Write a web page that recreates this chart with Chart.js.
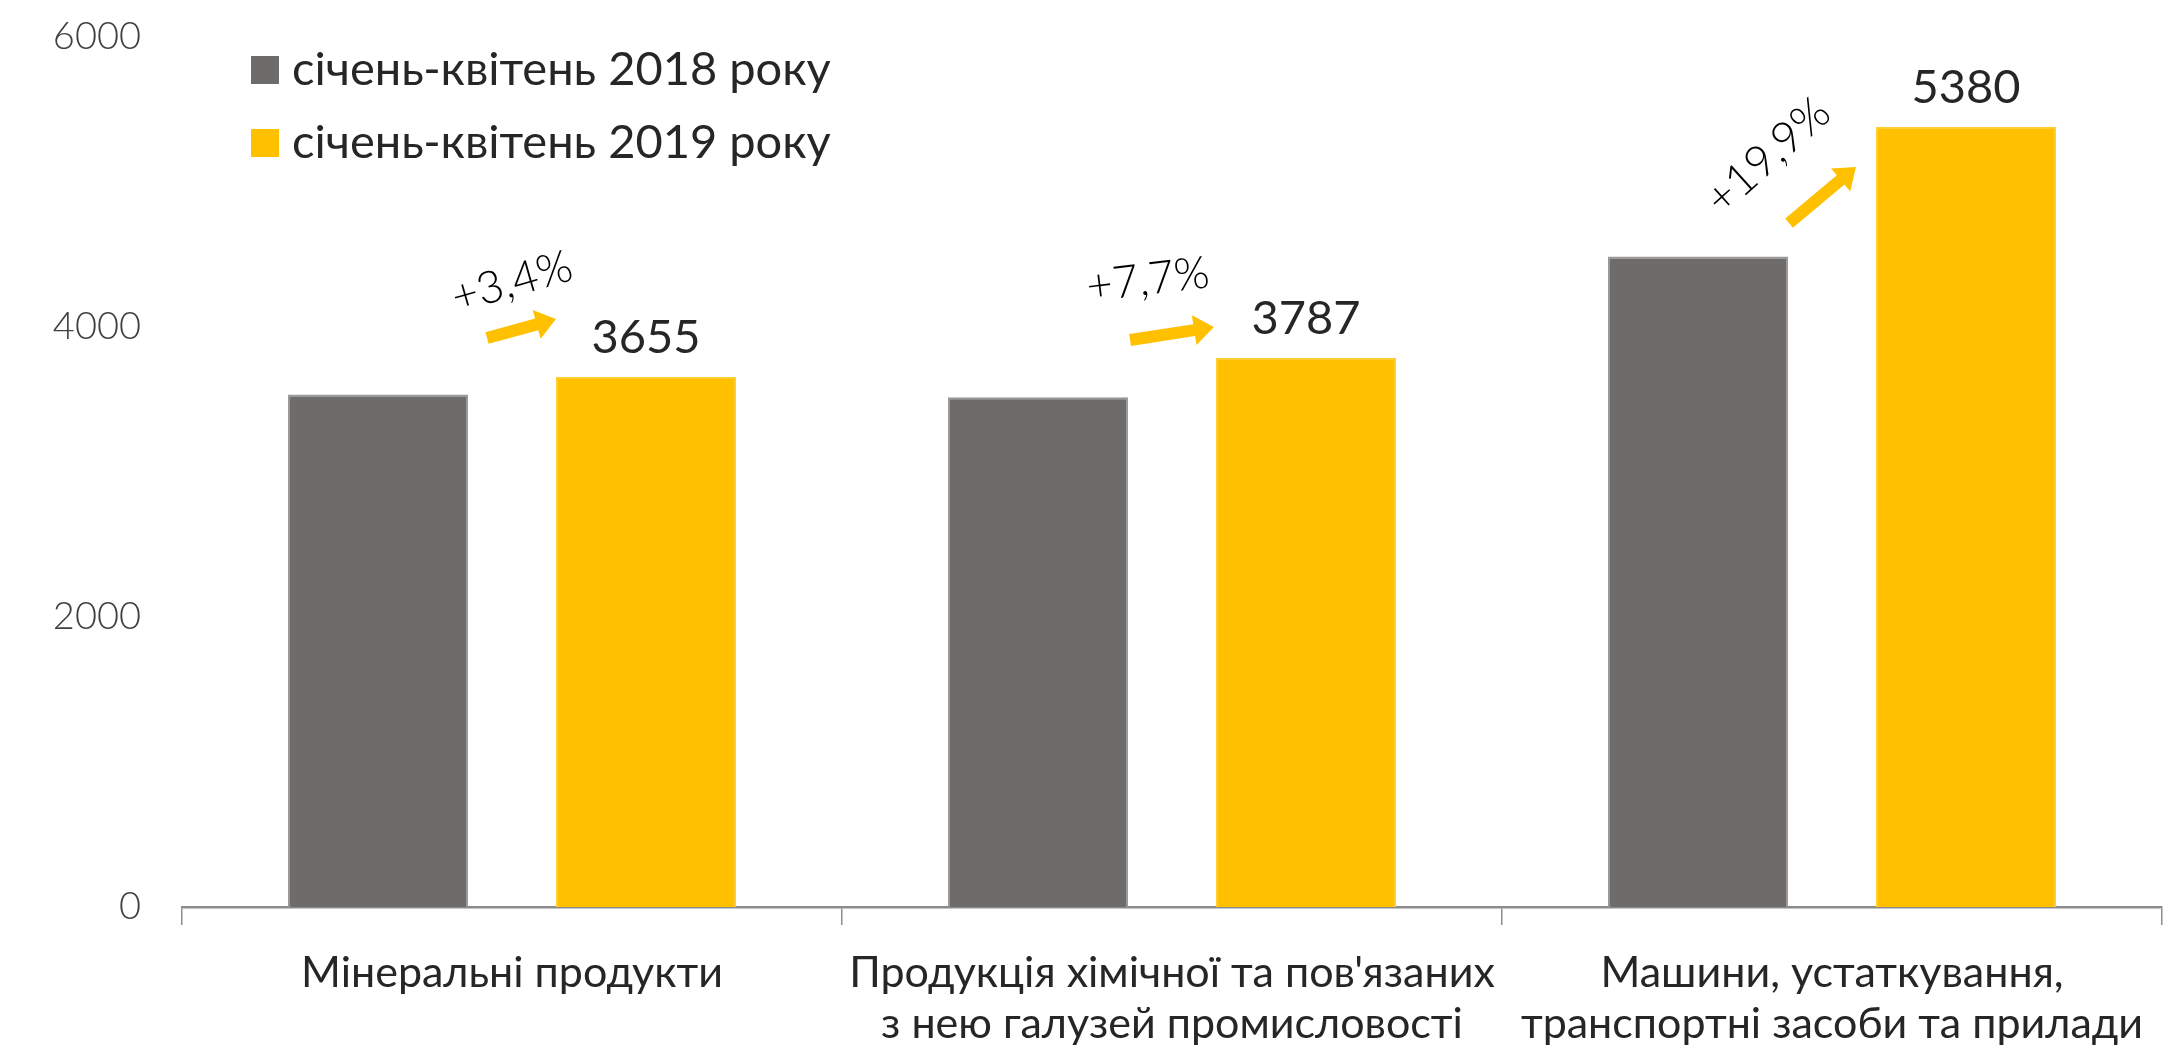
<!DOCTYPE html>
<html>
<head>
<meta charset="utf-8">
<script src="https://cdn.jsdelivr.net/npm/chart.js@4.4.1/dist/chart.umd.min.js"></script>
<style>
  html, body { margin: 0; padding: 0; background: #fff; }
  #wrap { width: 2183px; height: 1053px; position: relative; }
</style>
</head>
<body>
<div id="wrap"><canvas id="chart"></canvas></div>
<script>
// categories and values
const categories = [
  ['Мінеральні продукти'],
  ['Продукція хімічної та пов\'язаних', 'з нею галузей промисловості'],
  ['Машини, устаткування,', 'транспортні засоби та прилади']
];
const seriesNames = ['січень-квітень 2018 року', 'січень-квітень 2019 року'];
const values2018 = [3535, 3516, 4487];
const values2019 = [3655, 3787, 5380];
const growthLabels = ['+3,4%', '+7,7%', '+19,9%'];
const yTicks = [0, 2000, 4000, 6000];

// where the growth arrows / texts sit (data units for y, px gaps for x)
const arrowCfg = [
  { tail: 3924, tip: 4055, tailGap: 19, tipGap: 0, text: 4310, textDx: 0, angle: -16 },
  { tail: 3910, tip: 4000, tailGap: 2, tipGap: 2, text: 4324, textDx: -24, angle: -7 },
  { tail: 4717, tip: 5103, tailGap: 1, tipGap: 20, text: 5179, textDx: -64, angle: -42 }
];

const GREY = '#6d6c6a';
const YELLOW = '#ffc000';
const FONT = 'Lato, "Open Sans", sans-serif';
const TEXT = '#262626';

// draws arrows, growth texts, value labels and legend
const extras = {
  id: 'extras',
  afterDatasetsDraw(chart) {
    const ctx = chart.ctx;
    const y = chart.scales.y;
    const a = chart.getDatasetMeta(0).data;
    const b = chart.getDatasetMeta(1).data;

    ctx.save();
    // value labels above 2019 bars
    ctx.fillStyle = TEXT;
    ctx.font = '47px ' + FONT;
    ctx.textAlign = 'center';
    ctx.textBaseline = 'middle';
    b.forEach((bar, i) => {
      ctx.fillText(String(values2019[i]), bar.x, bar.y - 39);
    });

    // arrows + growth labels
    arrowCfg.forEach((c, i) => {
      const x0 = a[i].x + a[i].width / 2 + c.tailGap;
      const x1 = b[i].x - b[i].width / 2 - c.tipGap;
      const y0 = y.getPixelForValue(c.tail);
      const y1 = y.getPixelForValue(c.tip);
      const ang = Math.atan2(y1 - y0, x1 - x0);
      const len = Math.hypot(x1 - x0, y1 - y0);
      const headL = 20, headW = 15, shaftW = 6;
      ctx.save();
      ctx.translate(x0, y0);
      ctx.rotate(ang);
      ctx.fillStyle = YELLOW;
      ctx.beginPath();
      ctx.moveTo(0, -shaftW);
      ctx.lineTo(len - headL, -shaftW);
      ctx.lineTo(len - headL, -headW);
      ctx.lineTo(len, 0);
      ctx.lineTo(len - headL, headW);
      ctx.lineTo(len - headL, shaftW);
      ctx.lineTo(0, shaftW);
      ctx.closePath();
      ctx.fill();
      ctx.restore();

      const cx = (a[i].x + b[i].x) / 2 + c.textDx;
      const cy = y.getPixelForValue(c.text);
      ctx.save();
      ctx.translate(cx, cy);
      ctx.rotate(c.angle * Math.PI / 180);
      ctx.fillStyle = '#000';
      ctx.font = '300 45px ' + FONT;
      ctx.fillText(growthLabels[i], 0, 0);
      ctx.restore();
    });

    // legend (vertical, inside the plot area)
    const area = chart.chartArea;
    const colors = [GREY, YELLOW];
    ctx.textAlign = 'left';
    ctx.font = '47px ' + FONT;
    seriesNames.forEach((name, i) => {
      const cy = area.top + 33 + i * 73;
      ctx.fillStyle = colors[i];
      ctx.fillRect(area.left + 69, cy - 14, 28, 28);
      ctx.fillStyle = TEXT;
      ctx.fillText(name, area.left + 110, cy);
    });
    ctx.restore();
  }
};

new Chart(document.getElementById('chart'), {
  type: 'bar',
  data: {
    labels: categories,
    datasets: [
      {
        label: seriesNames[0],
        data: values2018,
        backgroundColor: GREY,
        borderColor: '#9a9998',
        borderWidth: 2,
        categoryPercentage: 0.812,
        barPercentage: 0.672
      },
      {
        label: seriesNames[1],
        data: values2019,
        backgroundColor: YELLOW,
        borderColor: '#ffcc33',
        borderWidth: 2,
        categoryPercentage: 0.812,
        barPercentage: 0.672
      }
    ]
  },
  options: {
    responsive: true,
    maintainAspectRatio: false,
    animation: false,
    layout: { padding: { top: 37, right: 21, left: 0, bottom: 0 } },
    plugins: {
      legend: { display: false },
      tooltip: { enabled: false }
    },
    scales: {
      x: {
        grid: {
          display: true,
          drawOnChartArea: false,
          drawTicks: true,
          tickLength: 18,
          color: '#8c8c8c',
          lineWidth: 1.5,
          offset: true
        },
        border: { display: true, color: '#8c8c8c', width: 2.5 },
        ticks: {
          color: TEXT,
          font: { family: FONT, size: 43 },
          padding: 22,
          maxRotation: 0,
          autoSkip: false
        },
        afterFit(scale) { scale.height = 146; }
      },
      y: {
        min: 0,
        max: 6000,
        afterBuildTicks(scale) { scale.ticks = yTicks.map(v => ({ value: v })); },
        grid: { display: false, drawTicks: true, tickLength: 41 },
        border: { display: false },
        ticks: {
          color: '#404040',
          font: { family: FONT, size: 38, weight: '300' },
          padding: 0,
          callback: (v) => String(v)
        },
        afterFit(scale) { scale.width = 182; }
      }
    }
  },
  plugins: [extras]
});
</script>
</body>
</html>
